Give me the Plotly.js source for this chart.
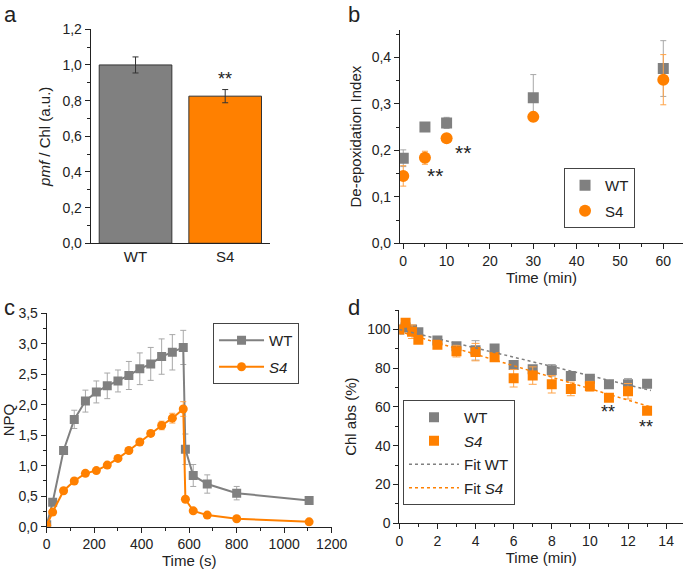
<!DOCTYPE html>
<html>
<head>
<meta charset="utf-8">
<script src="https://cdn.plot.ly/plotly-3.0.1.min.js"></script>
<style>html,body{margin:0;padding:0;background:#fff}#chart{width:685px;height:572px}</style>
</head>
<body>
<div id="chart"></div>
<script>
// ---- Panel a: pmf / Chl ----
const barCats = ['WT', 'S4'];
const barVals = [1.0, 0.825];
const barErr = [0.045, 0.037];

// ---- Panel b: De-epoxidation index ----
const deTime = [0, 5, 10, 30, 60];
const deWT = [0.183, 0.250, 0.259, 0.313, 0.376];
const deWTerr = [0.018, 0.008, 0.012, 0.050, 0.060];
const deS4 = [0.145, 0.184, 0.226, 0.272, 0.352];
const deS4err = [0.022, 0.014, 0.005, 0.010, 0.054];

// ---- Panel c: NPQ ----
const npqTime = [0, 25, 71, 116, 163, 209, 255, 300, 346, 392, 438, 484, 529, 575, 584, 617, 676, 800, 1105];
const npqWT = [0.03, 0.40, 1.25, 1.76, 2.06, 2.21, 2.31, 2.39, 2.48, 2.59, 2.67, 2.79, 2.86, 2.94, 1.27, 0.84, 0.70, 0.55, 0.43];
const npqWTerr = [0, 0.05, 0.05, 0.15, 0.18, 0.18, 0.21, 0.18, 0.23, 0.26, 0.27, 0.29, 0.29, 0.28, 0.25, 0.18, 0.15, 0.11, 0.02];
const npqS4 = [0.02, 0.24, 0.59, 0.75, 0.875, 0.92, 1.01, 1.12, 1.25, 1.39, 1.53, 1.66, 1.78, 1.93, 0.45, 0.26, 0.19, 0.13, 0.08];
const npqS4err = [0, 0.03, 0.03, 0.03, 0.03, 0.03, 0.03, 0.03, 0.03, 0.04, 0.04, 0.07, 0.08, 0.12, 0.03, 0.02, 0.02, 0.02, 0.01];

// ---- Panel d: Chl abs ----
const chlTime = [0, 0.33, 0.67, 1, 2, 3, 4, 5, 6, 7, 8, 9, 10, 11, 12, 13];
const chlWT = [100, 101, 100, 98.5, 94.3, 91.3, 89.2, 90.1, 81.6, 79.4, 78.9, 76, 74.6, 71.7, 71.7, 72];
const chlWTerr = [1, 1.5, 2, 1.5, 1, 1.5, 5, 2, 1.5, 2, 3, 1.5, 1.5, 1, 3, 1.5];
const chlS4 = [100, 103.4, 98.8, 94.7, 92.1, 88.8, 88.3, 85.7, 74.8, 76.2, 71.7, 69.3, 70.7, 64.8, 68.1, 58];
const chlS4err = [1, 1.5, 3.5, 1.5, 2, 3, 4.5, 2, 4.5, 4.5, 4.5, 3.5, 2.5, 1.5, 4, 1];
const fitTime = [0, 13.2];
const fitWT = [100, 68.5];
const fitS4 = [99, 60];

const GREY = '#808080', GREY_E = '#a8a8a8';
const ORANGE = '#ff8000', ORANGE_E = '#ffa347';
const INK = '#222';
const FONT = 'Liberation Sans, Arial, sans-serif';

const traces = [
  // a
  {type: 'bar', x: barCats, y: barVals, xaxis: 'x', yaxis: 'y', width: 0.81,
   marker: {color: [GREY, ORANGE], line: {color: '#333', width: 1}},
   error_y: {type: 'data', array: barErr, color: '#333', thickness: 1, width: 3},
   showlegend: false},
  // b
  {type: 'scatter', mode: 'markers', name: 'WT', x: deTime, y: deWT, xaxis: 'x2', yaxis: 'y2',
   marker: {symbol: 'square', size: 11, color: GREY},
   error_y: {type: 'data', array: deWTerr, color: GREY_E, thickness: 1, width: 3},
   legend: 'legend', legendgroup: 'b1'},
  {type: 'scatter', mode: 'markers', name: 'S4', x: deTime, y: deS4, xaxis: 'x2', yaxis: 'y2',
   marker: {symbol: 'circle', size: 12, color: ORANGE},
   error_y: {type: 'data', array: deS4err, color: ORANGE_E, thickness: 1, width: 3},
   legend: 'legend', legendgroup: 'b2'},
  // c
  {type: 'scatter', mode: 'lines+markers', name: 'WT', x: npqTime, y: npqWT, xaxis: 'x3', yaxis: 'y3',
   line: {color: GREY, width: 2}, marker: {symbol: 'square', size: 9, color: GREY},
   error_y: {type: 'data', array: npqWTerr, color: GREY_E, thickness: 1, width: 3},
   legend: 'legend2', legendgroup: 'c1'},
  {type: 'scatter', mode: 'lines+markers', name: '<i>S4</i>', x: npqTime, y: npqS4, xaxis: 'x3', yaxis: 'y3',
   line: {color: ORANGE, width: 2}, marker: {symbol: 'circle', size: 9, color: ORANGE},
   error_y: {type: 'data', array: npqS4err, color: ORANGE_E, thickness: 1, width: 3},
   legend: 'legend2', legendgroup: 'c2'},
  // d
  {type: 'scatter', mode: 'markers', name: 'WT', x: chlTime, y: chlWT, xaxis: 'x4', yaxis: 'y4',
   marker: {symbol: 'square', size: 10, color: GREY},
   error_y: {type: 'data', array: chlWTerr, color: GREY_E, thickness: 1, width: 4},
   legend: 'legend3', legendgroup: 'd1'},
  {type: 'scatter', mode: 'markers', name: '<i>S4</i>', x: chlTime, y: chlS4, xaxis: 'x4', yaxis: 'y4',
   marker: {symbol: 'square', size: 10, color: ORANGE},
   error_y: {type: 'data', array: chlS4err, color: ORANGE_E, thickness: 1, width: 4},
   legend: 'legend3', legendgroup: 'd2'},
  {type: 'scatter', mode: 'lines', name: 'Fit WT', x: fitTime, y: fitWT, xaxis: 'x4', yaxis: 'y4',
   line: {color: GREY, width: 1.5, dash: 'dot'}, legend: 'legend3', legendgroup: 'd3'},
  {type: 'scatter', mode: 'lines', name: 'Fit <i>S4</i>', x: fitTime, y: fitS4, xaxis: 'x4', yaxis: 'y4',
   line: {color: ORANGE, width: 1.5, dash: 'dot'}, legend: 'legend3', legendgroup: 'd4'}
];

function ax(o) {
  return Object.assign({
    showline: true, linecolor: INK, linewidth: 1, mirror: false,
    ticks: 'outside', ticklen: 5, tickcolor: INK, tickwidth: 1,
    tickfont: {family: FONT, size: 14, color: INK},
    showgrid: false, zeroline: false, fixedrange: true
  }, o);
}
function minor(d) { return {dtick: d, ticks: 'outside', ticklen: 3, tickcolor: INK, showgrid: false}; }
function title(t, s) { return {text: t, standoff: s, font: {family: FONT, size: 15, color: INK}}; }

const legendBase = {
  bgcolor: 'rgba(255,255,255,0)', bordercolor: '#444', borderwidth: 1,
  font: {family: FONT, size: 15, color: INK}, xanchor: 'left', yanchor: 'top',
  traceorder: 'grouped', tracegroupgap: 3
};

const layout = {
  width: 685, height: 572,
  margin: {l: 0, r: 0, t: 0, b: 0},
  paper_bgcolor: '#fff', plot_bgcolor: '#fff',
  separators: ',.',
  font: {family: FONT, color: INK},
  // a
  xaxis: ax({domain: [0.1324, 0.3942], range: [-0.5, 1.5], type: 'category', ticks: '', anchor: 'y',
    tickfont: {family: FONT, size: 15, color: INK}}),
  yaxis: ax({domain: [0.5747, 0.9488], range: [0, 1.2], dtick: 0.2, tickformat: '.1f', anchor: 'x',
    minor: minor(0.1), title: title('<i>pmf</i> / Chl (a.u.)', 8)}),
  // b
  xaxis2: ax({domain: [0.5839, 0.9971], range: [-0.76, 64.55], dtick: 10, anchor: 'y2',
    minor: minor(5), title: title('Time (min)', 4)}),
  yaxis2: ax({domain: [0.5747, 0.9476], range: [0, 0.459], dtick: 0.1, tickformat: '.1f', anchor: 'x2',
    minor: minor(0.05), title: title('De-epoxidation Index', 6)}),
  // c
  xaxis3: ax({domain: [0.0682, 0.4842], range: [0, 1200], dtick: 200, anchor: 'y3',
    minor: minor(100), title: title('Time (s)', 4)}),
  yaxis3: ax({domain: [0.0792, 0.4523], range: [0, 3.5], dtick: 0.5, tickformat: '.1f', anchor: 'x3',
    minor: minor(0.25), title: title('NPQ', 5)}),
  // d
  xaxis4: ax({domain: [0.5829, 0.9975], range: [0, 14.9], dtick: 2, anchor: 'y4',
    minor: minor(1), title: title('Time (min)', 4)}),
  yaxis4: ax({domain: [0.0851, 0.458], range: [0, 110], dtick: 20, anchor: 'x4',
    minor: minor(10), title: title('Chl abs (%)', 6)}),
  legend: Object.assign({}, legendBase, {x: 0.8234, y: 0.7063}),
  legend2: Object.assign({}, legendBase, {x: 0.311, y: 0.4353, itemwidth: 45, tracegroupgap: 4}),
  legend3: Object.assign({}, legendBase, {x: 0.5883, y: 0.3007, itemwidth: 50, tracegroupgap: 1}),
  annotations: [
    {text: 'a', xref: 'paper', yref: 'paper', x: 0.003, y: 1.0, xanchor: 'left', yanchor: 'top', showarrow: false, font: {family: FONT, size: 22, color: INK}},
    {text: 'b', xref: 'paper', yref: 'paper', x: 0.505, y: 1.0, xanchor: 'left', yanchor: 'top', showarrow: false, font: {family: FONT, size: 22, color: INK}},
    {text: 'c', xref: 'paper', yref: 'paper', x: 0.003, y: 0.488, xanchor: 'left', yanchor: 'top', showarrow: false, font: {family: FONT, size: 22, color: INK}},
    {text: 'd', xref: 'paper', yref: 'paper', x: 0.505, y: 0.488, xanchor: 'left', yanchor: 'top', showarrow: false, font: {family: FONT, size: 22, color: INK}},
    {text: '**', xref: 'x', yref: 'y', x: 'S4', y: 0.92, showarrow: false, font: {family: FONT, size: 18, color: INK}},
    {text: '**', xref: 'x2', yref: 'y2', x: 7.3, y: 0.146, showarrow: false, font: {family: FONT, size: 21, color: INK}},
    {text: '**', xref: 'x2', yref: 'y2', x: 13.7, y: 0.195, showarrow: false, font: {family: FONT, size: 21, color: INK}},
    {text: '**', xref: 'x4', yref: 'y4', x: 10.97, y: 57.4, showarrow: false, font: {family: FONT, size: 18, color: INK}},
    {text: '**', xref: 'x4', yref: 'y4', x: 12.95, y: 49.7, showarrow: false, font: {family: FONT, size: 18, color: INK}}
  ]
};

Plotly.newPlot('chart', traces, layout, {staticPlot: true, displayModeBar: false});
</script>
</body>
</html>
